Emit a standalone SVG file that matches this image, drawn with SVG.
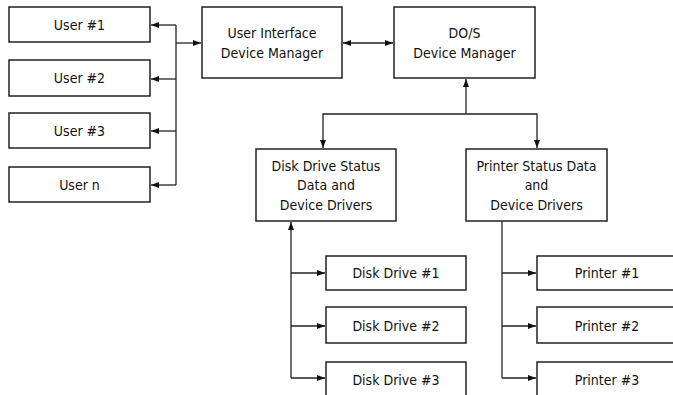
<svg xmlns="http://www.w3.org/2000/svg" width="673" height="395" viewBox="0 0 673 395">
  <style>
    .box { fill: #fff; stroke: #222; stroke-width: 1.5; }
    .lbl { font-family: "DejaVu Sans Condensed", "DejaVu Sans", sans-serif; font-size: 14px; fill: #111; text-anchor: middle; }
    .wire { fill: none; stroke: #222; stroke-width: 1.3; }
  </style>
  <defs>
    <marker id="arr" viewBox="0 0 8 6" refX="8" refY="3" markerWidth="8" markerHeight="6" markerUnits="userSpaceOnUse" orient="auto-start-reverse">
      <path d="M0,0 L8,3 L0,6 Z" fill="#111"/>
    </marker>
  </defs>
  <rect width="673" height="395" fill="#fff"/>

  <g id="connectors">
    <!-- user bus -->
    <path class="wire" d="M176,25 V185"/>
    <path class="wire" d="M176,25 H151" marker-end="url(#arr)"/>
    <path class="wire" d="M176,79 H151" marker-end="url(#arr)"/>
    <path class="wire" d="M176,131 H151" marker-end="url(#arr)"/>
    <path class="wire" d="M176,185 H151" marker-end="url(#arr)"/>
    <path class="wire" d="M176,43 H201" marker-end="url(#arr)"/>
    <!-- UI to DO/S -->
    <path class="wire" d="M343,43 H393" marker-start="url(#arr)" marker-end="url(#arr)"/>
    <!-- DO/S to status blocks -->
    <path class="wire" d="M466,114 V79" marker-end="url(#arr)"/>
    <path class="wire" d="M323,148 V114 H537 V148" marker-start="url(#arr)" marker-end="url(#arr)"/>
    <!-- disk drives -->
    <path class="wire" d="M291,378 V222" marker-end="url(#arr)"/>
    <path class="wire" d="M291,273 H325" marker-end="url(#arr)"/>
    <path class="wire" d="M291,326 H325" marker-end="url(#arr)"/>
    <path class="wire" d="M291,378 H325" marker-end="url(#arr)"/>
    <!-- printers -->
    <path class="wire" d="M502,221 V378"/>
    <path class="wire" d="M502,273 H536" marker-end="url(#arr)"/>
    <path class="wire" d="M502,326 H536" marker-end="url(#arr)"/>
    <path class="wire" d="M502,378 H536" marker-end="url(#arr)"/>
  </g>

  <g id="user1"><rect class="box" x="9" y="7" width="141" height="35"/><text class="lbl" x="79.5" y="30">User #1</text></g>
  <g id="user2"><rect class="box" x="9" y="60" width="141" height="36"/><text class="lbl" x="79.5" y="83">User #2</text></g>
  <g id="user3"><rect class="box" x="9" y="113" width="141" height="35"/><text class="lbl" x="79.5" y="136">User #3</text></g>
  <g id="usern"><rect class="box" x="9" y="167" width="141" height="35"/><text class="lbl" x="79.5" y="190">User n</text></g>

  <g id="ui-manager">
    <rect class="box" x="202" y="7" width="140" height="71"/>
    <text class="lbl" x="272" y="38">User Interface</text>
    <text class="lbl" x="272" y="58">Device Manager</text>
  </g>
  <g id="dos-manager">
    <rect class="box" x="394" y="7" width="141" height="71"/>
    <text class="lbl" x="464.5" y="38">DO/S</text>
    <text class="lbl" x="464.5" y="58">Device Manager</text>
  </g>

  <g id="disk-status">
    <rect class="box" x="256" y="149" width="140" height="72"/>
    <text class="lbl" x="326" y="171">Disk Drive Status</text>
    <text class="lbl" x="326" y="190">Data and</text>
    <text class="lbl" x="326" y="210">Device Drivers</text>
  </g>
  <g id="printer-status">
    <rect class="box" x="466" y="149" width="141" height="72"/>
    <text class="lbl" x="536.5" y="171">Printer Status Data</text>
    <text class="lbl" x="536.5" y="190">and</text>
    <text class="lbl" x="536.5" y="210">Device Drivers</text>
  </g>

  <g id="disk1"><rect class="box" x="326" y="256" width="140" height="34"/><text class="lbl" x="396" y="278">Disk Drive #1</text></g>
  <g id="disk2"><rect class="box" x="326" y="307" width="140" height="36"/><text class="lbl" x="396" y="331">Disk Drive #2</text></g>
  <g id="disk3"><rect class="box" x="326" y="362" width="140" height="40"/><text class="lbl" x="396" y="385">Disk Drive #3</text></g>

  <g id="printer1"><rect class="box" x="537" y="256" width="140" height="34"/><text class="lbl" x="607" y="278">Printer #1</text></g>
  <g id="printer2"><rect class="box" x="537" y="307" width="140" height="36"/><text class="lbl" x="607" y="331">Printer #2</text></g>
  <g id="printer3"><rect class="box" x="537" y="362" width="140" height="40"/><text class="lbl" x="607" y="385">Printer #3</text></g>
</svg>
